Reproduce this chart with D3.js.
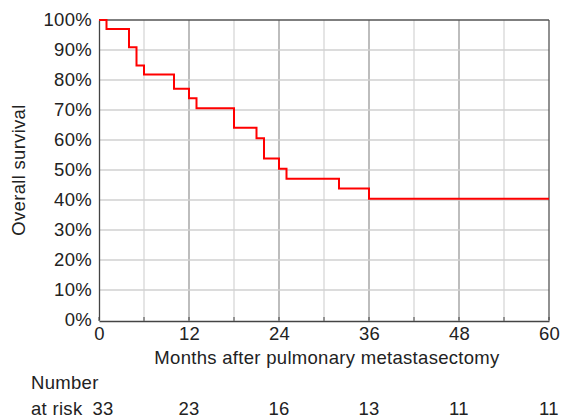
<!DOCTYPE html>
<html>
<head>
<meta charset="utf-8">
<script src="https://cdn.jsdelivr.net/npm/d3@7"></script>
<style>
  body { margin: 0; background: #fff; }
  text { font-family: "Liberation Sans", Arial, sans-serif; fill: #222; letter-spacing: 0.3px; }
</style>
</head>
<body>
<div id="chart"></div>
<script>
// survival steps (month, survival %)
const months   = [0, 1, 4, 5, 6, 10, 12, 13, 18, 21, 22, 24, 25, 32, 36, 60];
const survival = [100, 96.97, 90.9, 84.8, 81.8, 77.1, 73.9, 70.6, 64.1, 60.6, 53.8, 50.4, 47.1, 43.8, 40.4, 40.4];

const xTicks = [0, 12, 24, 36, 48, 60];
const yTicks = [0, 10, 20, 30, 40, 50, 60, 70, 80, 90, 100];
const atRisk = [33, 23, 16, 13, 11, 11];

const width = 564, height = 420;
const margin = { top: 20, right: 15, bottom: 99, left: 99 };
const fs = "18.5px";

const svg = d3.select("#chart").append("svg")
  .attr("width", width)
  .attr("height", height);

const x = d3.scaleLinear().domain([0, 60]).range([margin.left, width - margin.right]);
const y = d3.scaleLinear().domain([0, 100]).range([height - margin.bottom - 1, margin.top]);

// grid - minor every 6 months, major every 12
const vgrid = d3.range(6, 60, 6);
svg.append("g").selectAll("line")
  .data(vgrid)
  .join("line")
  .attr("x1", d => x(d)).attr("x2", d => x(d))
  .attr("y1", y(0)).attr("y2", y(100))
  .attr("stroke", d => d % 12 === 0 ? "#bdbdbd" : "#dcdcdc")
  .attr("stroke-width", d => d % 12 === 0 ? 2 : 1.5);

svg.append("g").selectAll("line")
  .data(yTicks.filter(d => d > 0 && d < 100))
  .join("line")
  .attr("x1", x(0)).attr("x2", x(60))
  .attr("y1", d => y(d)).attr("y2", d => y(d))
  .attr("stroke", "#d0d0d0")
  .attr("stroke-width", 1.5);

// frame
svg.append("line").attr("x1", x(0)).attr("x2", x(60)).attr("y1", y(100)).attr("y2", y(100))
  .attr("stroke", "#555").attr("stroke-width", 1.3);
svg.append("line").attr("x1", x(60)).attr("x2", x(60)).attr("y1", y(100)).attr("y2", y(0))
  .attr("stroke", "#555").attr("stroke-width", 1.3);

// axes
const xAxis = svg.append("g")
  .attr("transform", `translate(0,${y(0) + 1})`)
  .call(d3.axisBottom(x).tickValues(xTicks).tickSize(0).tickPadding(6));
xAxis.select(".domain").attr("stroke", "#444").attr("stroke-width", 1.3);
xAxis.selectAll("text").style("font-size", fs).attr("fill", "#222");

// small inward ticks every 6 months
svg.append("g").selectAll("line")
  .data(d3.range(0, 61, 6))
  .join("line")
  .attr("x1", d => x(d)).attr("x2", d => x(d))
  .attr("y1", y(0) + 1).attr("y2", y(0) - 3)
  .attr("stroke", "#444");

const yAxis = svg.append("g")
  .attr("transform", `translate(${x(0)},0)`)
  .call(d3.axisLeft(y).tickValues(yTicks).tickFormat(d => d + "%").tickSize(0).tickPadding(7));
yAxis.select(".domain").attr("stroke", "#444").attr("stroke-width", 1.3);
yAxis.selectAll("text").style("font-size", fs).attr("fill", "#222");

// survival curve
const pts = months.map((m, i) => [m, survival[i]]);
const line = d3.line()
  .x(d => x(d[0]))
  .y(d => y(d[1]))
  .curve(d3.curveStepAfter);

svg.append("path")
  .datum(pts)
  .attr("d", line)
  .attr("fill", "none")
  .attr("stroke", "#ff0000")
  .attr("stroke-width", 2);

// labels
svg.append("text")
  .attr("x", (x(0) + x(60)) / 2 + 3)
  .attr("y", 364)
  .attr("text-anchor", "middle")
  .style("font-size", fs)
  .text("Months after pulmonary metastasectomy");

svg.append("text")
  .attr("transform", `translate(25,${(y(0) + y(100)) / 2}) rotate(-90)`)
  .attr("text-anchor", "middle")
  .style("font-size", fs)
  .text("Overall survival");

// number at risk
svg.append("text").attr("x", 31).attr("y", 389).style("font-size", fs).text("Number");
svg.append("text").attr("x", 31).attr("y", 415).style("font-size", fs).text("at risk");

svg.append("g").selectAll("text")
  .data(atRisk)
  .join("text")
  .attr("x", (d, i) => x(xTicks[i]) + (i === 0 ? 4 : 0))
  .attr("y", 415)
  .attr("text-anchor", "middle")
  .style("font-size", fs)
  .text(d => d);
</script>
</body>
</html>
